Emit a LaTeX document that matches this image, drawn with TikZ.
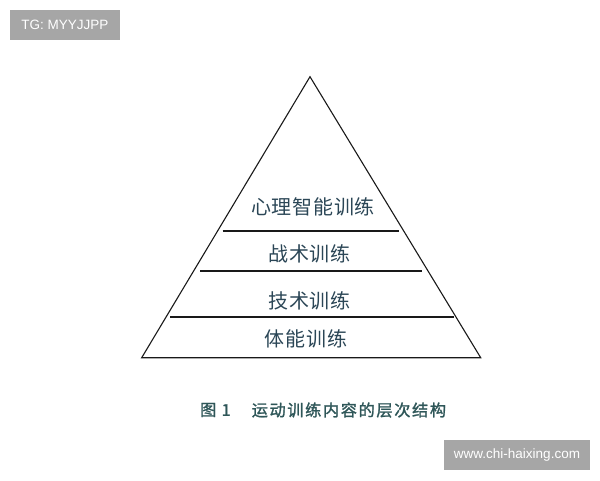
\documentclass[tikz,border=0pt]{standalone}
\usepackage{fontspec}
\setmainfont{Liberation Sans}
\newfontfamily\cjk{Noto Sans CJK SC}[LetterSpace=4]
\newfontfamily\cjkcap{Noto Sans CJK SC}[LetterSpace=10,FakeBold=1.5]
\newfontfamily\wmfont{Liberation Sans}
\definecolor{txtblue}{HTML}{2B4656}
\definecolor{captxt}{HTML}{2E5658}
\definecolor{wmgray}{HTML}{A6A6A6}
\tikzset{
  layerlabel/.style={font=\cjk\fontsize{20}{21}\selectfont, text=txtblue, inner sep=0pt, anchor=center},
  divider/.style={line width=1.6pt, draw=black!90},
  outline/.style={line width=1.1pt, draw=black!90, line join=miter},
  wmbox/.style={fill=wmgray, text=white, inner sep=0pt, font=\wmfont\fontsize{13.5}{14}\selectfont},
  captext/.style={font=\cjkcap\fontsize{16.2}{17}\selectfont, text=captxt, inner sep=0pt, anchor=west},
}
\begin{document}
\begin{tikzpicture}[x=1pt,y=-1pt]
\useasboundingbox (0,0) rectangle (600,480);
% watermark boxes
\node[wmbox, minimum width=110pt, minimum height=30pt] (tg) at (65,25) {TG: MYYJJPP};
\node[wmbox, minimum width=146pt, minimum height=30pt] (web) at (517,455) {www.chi-haixing.com};
% triangle
\coordinate (apex) at (310,76.7);
\coordinate (bl) at (141.7,357.7);
\coordinate (br) at (480.7,357.7);
\draw[outline] (apex) -- (br) -- (bl) -- cycle;
% dividers
\coordinate (d1l) at (222.7,231);   \coordinate (d1r) at (398.7,231);
\coordinate (d2l) at (200,270.7);   \coordinate (d2r) at (422,270.7);
\coordinate (d3l) at (170,316.7);   \coordinate (d3r) at (454.3,316.7);
\draw[divider] (d1l) -- (d1r);
\draw[divider] (d2l) -- (d2r);
\draw[divider] (d3l) -- (d3r);
% labels
\node[layerlabel] (l1) at (313,206.5) {心理智能训练};
\node[layerlabel] (l2) at (309.5,254.3) {战术训练};
\node[layerlabel] (l3) at (309.5,300.7) {技术训练};
\node[layerlabel] (l4) at (306,339.3) {体能训练};
% caption
\node[captext] (capnum) at (200,410) {图 1};
\node[captext] (cap) at (251.5,410) {运动训练内容的层次结构};
\end{tikzpicture}
\end{document}
